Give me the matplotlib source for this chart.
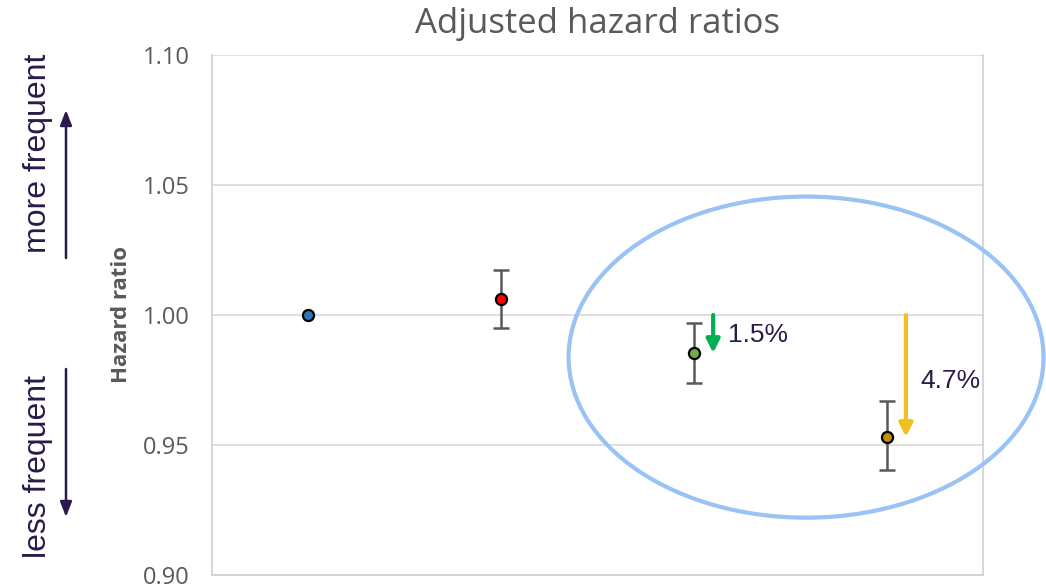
import matplotlib
matplotlib.use("Agg")
import matplotlib.pyplot as plt
from matplotlib.patches import Ellipse

groups = ["A", "B", "C", "D"]
hr = [1.000, 1.0062, 0.9854, 0.9531]
ci_low = [1.000, 0.9950, 0.9738, 0.9404]
ci_high = [1.000, 1.0173, 0.9969, 0.9669]
colors = ["#2e75b6", "#ff0000", "#70ad47", "#bf9000"]
yticks = [0.90, 0.95, 1.00, 1.05, 1.10]
reductions = ["1.5%", "4.7%"]
reduction_idx = [2, 3]
arrow_colors = ["#00b050", "#f0c020"]

plt.rcParams['font.family'] = ['Open Sans', 'DejaVu Sans']

fig = plt.figure(figsize=(10.46, 5.85), dpi=100)
ax = fig.add_axes([212/1046, 1-575/585, (983-212)/1046, (575-55)/585])

x = list(range(len(groups)))
for i in x:
    if ci_high[i] != ci_low[i]:
        ax.errorbar(i, hr[i], yerr=[[hr[i]-ci_low[i]], [ci_high[i]-hr[i]]],
                    fmt='none', ecolor='#595959', elinewidth=1.8, capsize=6, capthick=1.8, zorder=3)
    ax.plot(i, hr[i], 'o', ms=8, mfc=colors[i], mec='black', mew=1.6, zorder=4)

ax.set_xlim(-0.5, 3.5)
ax.set_ylim(0.90, 1.10)
ax.set_yticks(yticks)
ax.set_yticklabels([f"{t:.2f}" for t in yticks])
ax.set_xticks([])
ax.grid(axis='y', color='#d9d9d9', lw=1.2)
ax.set_axisbelow(True)
for s in ax.spines.values():
    s.set_color('#d0d0d0')
    s.set_linewidth(1.2)
ax.spines['top'].set_visible(False)
ax.tick_params(axis='y', length=0, labelsize=17, labelcolor='#595959', pad=16)
ax.set_ylabel("Hazard ratio", fontsize=16, fontweight='bold', color='#595959', labelpad=8)
ax.set_title("Adjusted hazard ratios", fontsize=25, color='#595959', pad=16)

# reduction arrows
offsets = [0.1, 0.1]
for k, (idx, lab, c) in enumerate(zip(reduction_idx, reductions, arrow_colors)):
    xa = idx + offsets[k]
    ax.annotate("", xy=(xa, hr[idx]), xytext=(xa, 1.0),
                arrowprops=dict(arrowstyle='-|>,head_width=0.4,head_length=0.8', color=c, lw=3,
                                shrinkA=0, shrinkB=0), zorder=5)
lab_y = [0.9925, 0.9747]
for k, (idx, lab) in enumerate(zip(reduction_idx, reductions)):
    ax.text(idx + 0.175, lab_y[k], lab, fontsize=19, color='#2a1a4a', va='center', ha='left',
            family='Liberation Sans')

# ellipse
ell = Ellipse((2.582, 0.9838), 2.464, 0.1235, fill=False, ec='#99c2f5', lw=3, clip_on=False, zorder=6)
ax.add_patch(ell)

# left side annotations
dark = '#2a1a4a'
fig.text(38/1046, 1-153/585, "more frequent", rotation=90, fontsize=23, color=dark, ha='center', va='center',
         family='Liberation Sans')
fig.text(38/1046, 1-467/585, "less frequent", rotation=90, fontsize=23, color=dark, ha='center', va='center',
         family='Liberation Sans')
ax.annotate("", xy=(66/1046, 1-110/585), xytext=(66/1046, 1-258/585), xycoords='figure fraction',
            textcoords='figure fraction',
            arrowprops=dict(arrowstyle='-|>,head_width=0.35,head_length=0.9', color=dark, lw=1.8, shrinkA=0, shrinkB=0),
            annotation_clip=False)
ax.annotate("", xy=(66/1046, 1-517/585), xytext=(66/1046, 1-369/585), xycoords='figure fraction',
            textcoords='figure fraction',
            arrowprops=dict(arrowstyle='-|>,head_width=0.35,head_length=0.9', color=dark, lw=1.8, shrinkA=0, shrinkB=0),
            annotation_clip=False)

fig.savefig("out.png", dpi=100)
